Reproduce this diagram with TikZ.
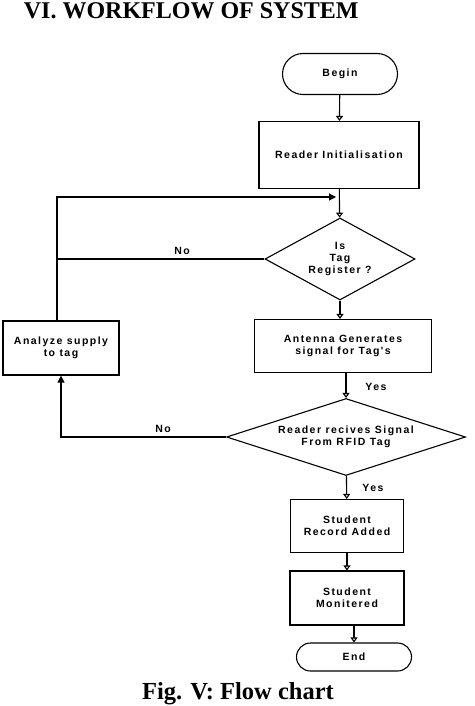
\documentclass[tikz,border=0pt]{standalone}
\usepackage{fontspec}
\setmainfont{Liberation Serif}
\newfontfamily\flowfont[LetterSpace=14]{Liberation Sans}
\usetikzlibrary{shapes.geometric,shapes.misc,arrows.meta}

\begin{document}
\begin{tikzpicture}[x=1pt, y=-1pt, line width=1.1pt,
  every node/.style={font=\flowfont\bfseries\fontsize{10.5}{12}\selectfont},
  box/.style={draw, rectangle, align=center, inner sep=0pt},
  term/.style={draw, rounded rectangle, inner sep=0pt},
  decide/.style={draw, diamond, align=center, inner sep=0pt},
  flow/.style={-{Triangle[open, length=5pt, width=7pt]}},
  back/.style={-{Triangle[length=7pt, width=7pt]}}]
\useasboundingbox (0,0) rectangle (474,706);
% Title and caption
\node[font=\bfseries\fontsize{24}{28}\selectfont, anchor=base west] (title) at (20,18.5) {VI. WORKFLOW OF SYSTEM};
\node[font=\bfseries\fontsize{24.5}{28}\selectfont, anchor=base] (caption) at (238,699) {Fig. V: Flow chart};
% Main column
\node[term, minimum width=115pt, minimum height=41pt] (begin) at (340,74) {Begin};
\node[box, minimum width=160pt, minimum height=67pt] (init) at (339,155) {Reader Initialisation};
\node[decide, aspect=1.83, minimum width=150pt, minimum height=82pt] (tag) at (340,259) {Is\\Tag\\Register ?};
\node[box, minimum width=177pt, minimum height=53pt] (antenna) at (343,346) {Antenna Generates\\signal for Tag's};
\node[decide, aspect=3.1, minimum width=239pt, minimum height=77pt] (reader) at (346,437) {Reader recives Signal\\From RFID Tag};
\node[box, minimum width=113pt, minimum height=53pt] (record) at (347,526) {Student\\Record Added};
\node[box, minimum width=114pt, minimum height=54pt] (monitor) at (347,598) {Student\\Monitered};
\node[term, minimum width=115pt, minimum height=28pt] (end) at (354,657) {End};
% Side box
\node[box, minimum width=116pt, minimum height=54pt] (analyze) at (61,348) {Analyze supply\\to tag};
% Forward arrows
\draw[flow] (begin) -- (init);
\draw[flow] (init) -- (tag);
\draw[flow] (tag.south) -- (tag.south |- antenna.north);
\draw[flow] (antenna.south -| reader.north) -- (reader.north);
\draw[flow] (reader) -- (record);
\draw[flow] (record) -- (monitor);
\draw[flow] (monitor.south -| end.north) -- (end.north);
\node (yes1) at (376,387) {Yes};
\node (yes2) at (373,488) {Yes};
% Loop back
\coordinate (uptop) at ([xshift=-4pt]analyze.north);
\coordinate (join) at (336,197);
\draw[back] (uptop) |- (join);
\draw (tag.west) -- (tag.west -| uptop);
\node (no1) at (182,251) {No};
\draw[back] (reader.west) -| (analyze.south);
\node (no2) at (163,429) {No};
\end{tikzpicture}
\end{document}
